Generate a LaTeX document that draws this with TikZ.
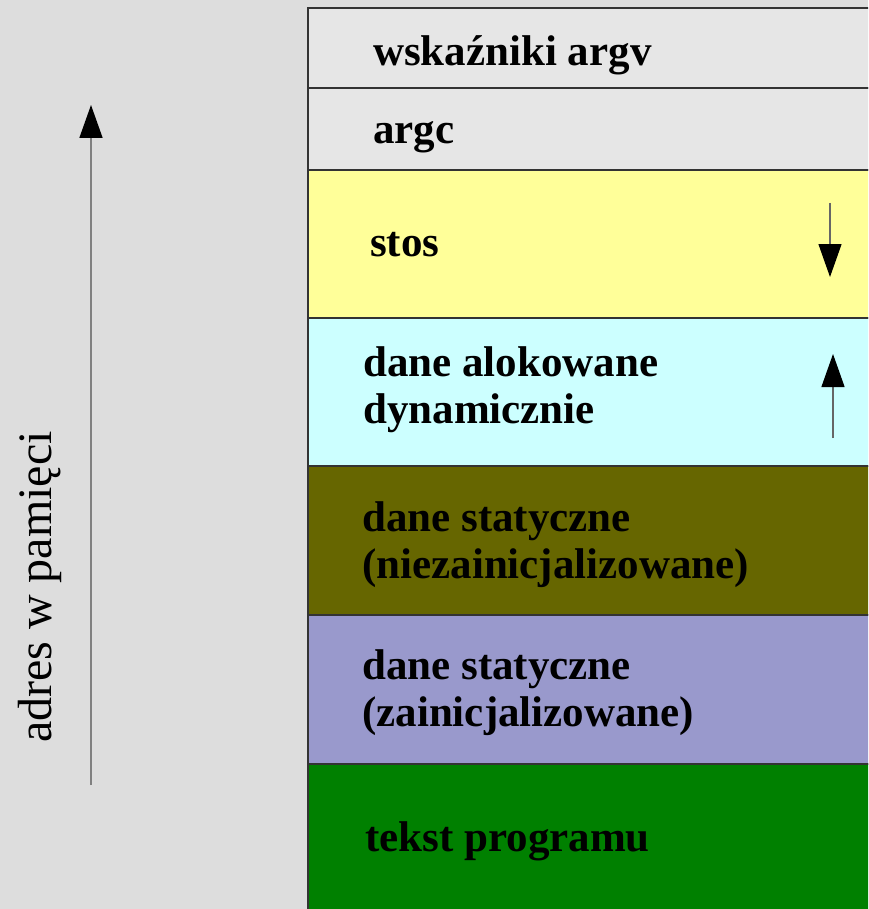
\documentclass[tikz,border=0pt]{standalone}
\usepackage{fontspec}
\setmainfont{Liberation Serif}
\usetikzlibrary{arrows.meta}

\definecolor{bggray}{HTML}{DDDDDD}
\definecolor{cellgray}{HTML}{E6E6E6}
\definecolor{stackyellow}{HTML}{FFFF99}
\definecolor{heapcyan}{HTML}{CCFFFF}
\definecolor{bssolive}{HTML}{666600}
\definecolor{datalav}{HTML}{9999CC}
\definecolor{textgreen}{HTML}{008000}
\definecolor{edgegray}{HTML}{333333}
\definecolor{shaftgray}{HTML}{666666}

\tikzset{
  segment/.style={draw=edgegray, line width=1.4pt},
  label/.style={anchor=base west, inner sep=0pt, font=\fontsize{43}{47}\selectfont\bfseries,
                align=left},
  growth/.style={draw=shaftgray, line width=1.2pt,
                 -{Triangle[length=33pt, width=23pt, color=black, fill=black]}},
}

\begin{document}
\begin{tikzpicture}[x=1pt, y=-1pt]
  \useasboundingbox (0,0) rectangle (868,909);
  \fill[bggray] (0,0) rectangle (868,909);
  \clip (0,0) rectangle (868,909);

  % memory segments, top (high addresses) to bottom
  \draw[segment, fill=cellgray]    (308,8)   rectangle (890,88);
  \draw[segment, fill=cellgray]    (308,88)  rectangle (890,170);
  \draw[segment, fill=stackyellow] (308,170) rectangle (890,318);
  \draw[segment, fill=heapcyan]    (308,318) rectangle (890,466);
  \draw[segment, fill=bssolive]    (308,466) rectangle (890,615);
  \draw[segment, fill=datalav]     (308,615) rectangle (890,764);
  \draw[segment, fill=textgreen]   (308,764) rectangle (890,930);

  % segment names (multi-line labels sit on the baseline of their last line)
  \node[label] (argv)  at (373,66)  {wskaźniki argv};
  \node[label] (argc)  at (373,144) {argc};
  \node[label] (stos)  at (370,256) {stos};
  \node[label] (heap)  at (363,423) {dane alokowane\\dynamicznie};
  \node[label] (bss)   at (362,578) {dane statyczne\\(niezainicjalizowane)};
  \node[label] (data)  at (362,726) {dane statyczne\\(zainicjalizowane)};
  \node[label] (code)  at (365,851) {tekst programu};

  % growth directions of stack and heap
  \coordinate (stackTop) at (830,203);
  \coordinate (stackEnd) at (830,277);
  \draw[growth] (stackTop) -- (stackEnd);
  \coordinate (heapBase) at (833,438);
  \coordinate (heapEnd)  at (833,354);
  \draw[growth] (heapBase) -- (heapEnd);

  % address axis
  \coordinate (axisLow)  at (91,785);
  \coordinate (axisHigh) at (91,105);
  \draw[growth, draw=gray, line width=1.6pt] (axisLow) -- (axisHigh);
  \node[rotate=90, anchor=base, inner sep=0pt, font=\fontsize{48}{52}\selectfont]
    (axislabel) at (51,587) {adres w pamięci};
\end{tikzpicture}
\end{document}
